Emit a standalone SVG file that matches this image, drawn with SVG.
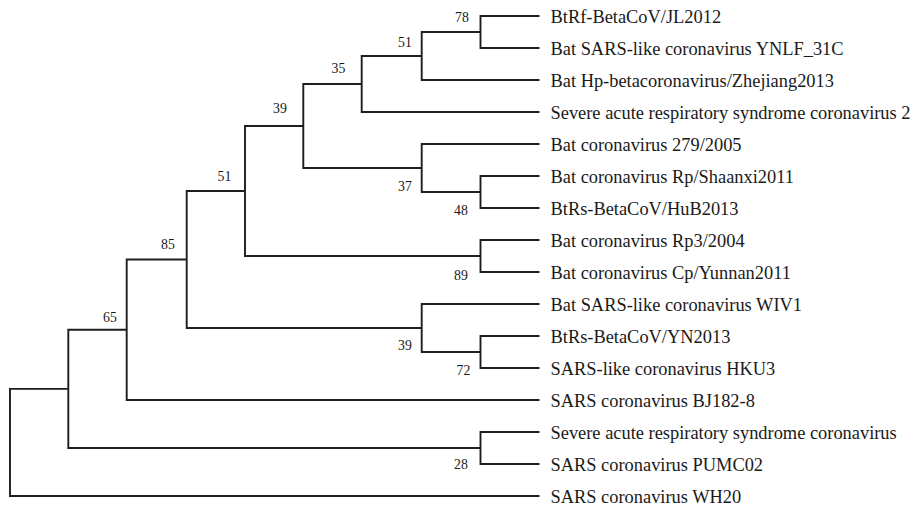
<svg xmlns="http://www.w3.org/2000/svg" width="914" height="510" viewBox="0 0 914 510">
<style>
.br{fill:none;stroke:#1e1e1e;stroke-width:1.9;stroke-linejoin:miter}
.lf{font-family:"Liberation Serif","Times New Roman",serif;font-size:18.4px;fill:#1a1a1a}
.bs{font-family:"Liberation Serif","Times New Roman",serif;font-size:13.8px;fill:#1a1a1a;text-anchor:middle}
</style>
<rect width="914" height="510" fill="#ffffff"/>
<g id="connectors">
<path class="br" d="M539.5 16 H480.5 V48 H539.5"/>
<path class="br" d="M480.5 32 H421.7 V80 H539.5"/>
<path class="br" d="M421.7 56 H361.7 V112 H539.5"/>
<path class="br" d="M539.5 176 H480.5 V208 H539.5"/>
<path class="br" d="M539.5 144 H421.7 V192 H480.5"/>
<path class="br" d="M361.7 84 H303.3 V168 H421.7"/>
<path class="br" d="M539.5 240 H480.5 V272 H539.5"/>
<path class="br" d="M303.3 126 H245 V256 H480.5"/>
<path class="br" d="M539.5 336 H480.5 V368 H539.5"/>
<path class="br" d="M539.5 304 H421.7 V352 H480.5"/>
<path class="br" d="M245 191 H186.7 V328 H421.7"/>
<path class="br" d="M186.7 259.5 H126.7 V400 H539.5"/>
<path class="br" d="M539.5 432 H480.5 V464 H539.5"/>
<path class="br" d="M126.7 329.75 H68.3 V448 H480.5"/>
<path class="br" d="M68.3 388.9 H10 V496 H539.5"/>
</g>
<g id="n78"><text class="bs" x="462" y="21.8">78</text></g>
<g id="n51a"><text class="bs" x="405" y="46.5">51</text></g>
<g id="n35"><text class="bs" x="338.5" y="72.5">35</text></g>
<g id="n39a"><text class="bs" x="280" y="112.5">39</text></g>
<g id="n51b"><text class="bs" x="224.5" y="180.5">51</text></g>
<g id="n85"><text class="bs" x="168" y="248.5">85</text></g>
<g id="n65"><text class="bs" x="110" y="321.5">65</text></g>
<g id="n37"><text class="bs" x="405" y="190.5">37</text></g>
<g id="n48"><text class="bs" x="461" y="215.2">48</text></g>
<g id="n89"><text class="bs" x="461" y="279.5">89</text></g>
<g id="n39b"><text class="bs" x="405" y="349.5">39</text></g>
<g id="n72"><text class="bs" x="463.5" y="375.2">72</text></g>
<g id="n28"><text class="bs" x="461" y="468.8">28</text></g>
<g id="root"></g>
<g id="nr1"></g>
<g id="leaf1"><text class="lf" x="550.5" y="22.5">BtRf-BetaCoV/JL2012</text></g>
<g id="leaf2"><text class="lf" x="550.5" y="54.5">Bat SARS-like coronavirus YNLF_31C</text></g>
<g id="leaf3"><text class="lf" x="550.5" y="86.5">Bat Hp-betacoronavirus/Zhejiang2013</text></g>
<g id="leaf4"><text class="lf" x="550.5" y="118.5">Severe acute respiratory syndrome coronavirus 2</text></g>
<g id="leaf5"><text class="lf" x="550.5" y="150.5">Bat coronavirus 279/2005</text></g>
<g id="leaf6"><text class="lf" x="550.5" y="182.5">Bat coronavirus Rp/Shaanxi2011</text></g>
<g id="leaf7"><text class="lf" x="550.5" y="214.5">BtRs-BetaCoV/HuB2013</text></g>
<g id="leaf8"><text class="lf" x="550.5" y="246.5">Bat coronavirus Rp3/2004</text></g>
<g id="leaf9"><text class="lf" x="550.5" y="278.5">Bat coronavirus Cp/Yunnan2011</text></g>
<g id="leaf10"><text class="lf" x="550.5" y="310.5">Bat SARS-like coronavirus WIV1</text></g>
<g id="leaf11"><text class="lf" x="550.5" y="342.5">BtRs-BetaCoV/YN2013</text></g>
<g id="leaf12"><text class="lf" x="550.5" y="374.5">SARS-like coronavirus HKU3</text></g>
<g id="leaf13"><text class="lf" x="550.5" y="406.5">SARS coronavirus BJ182-8</text></g>
<g id="leaf14"><text class="lf" x="550.5" y="438.5">Severe acute respiratory syndrome coronavirus</text></g>
<g id="leaf15"><text class="lf" x="550.5" y="470.5">SARS coronavirus PUMC02</text></g>
<g id="leaf16"><text class="lf" x="550.5" y="502.5">SARS coronavirus WH20</text></g>
</svg>
